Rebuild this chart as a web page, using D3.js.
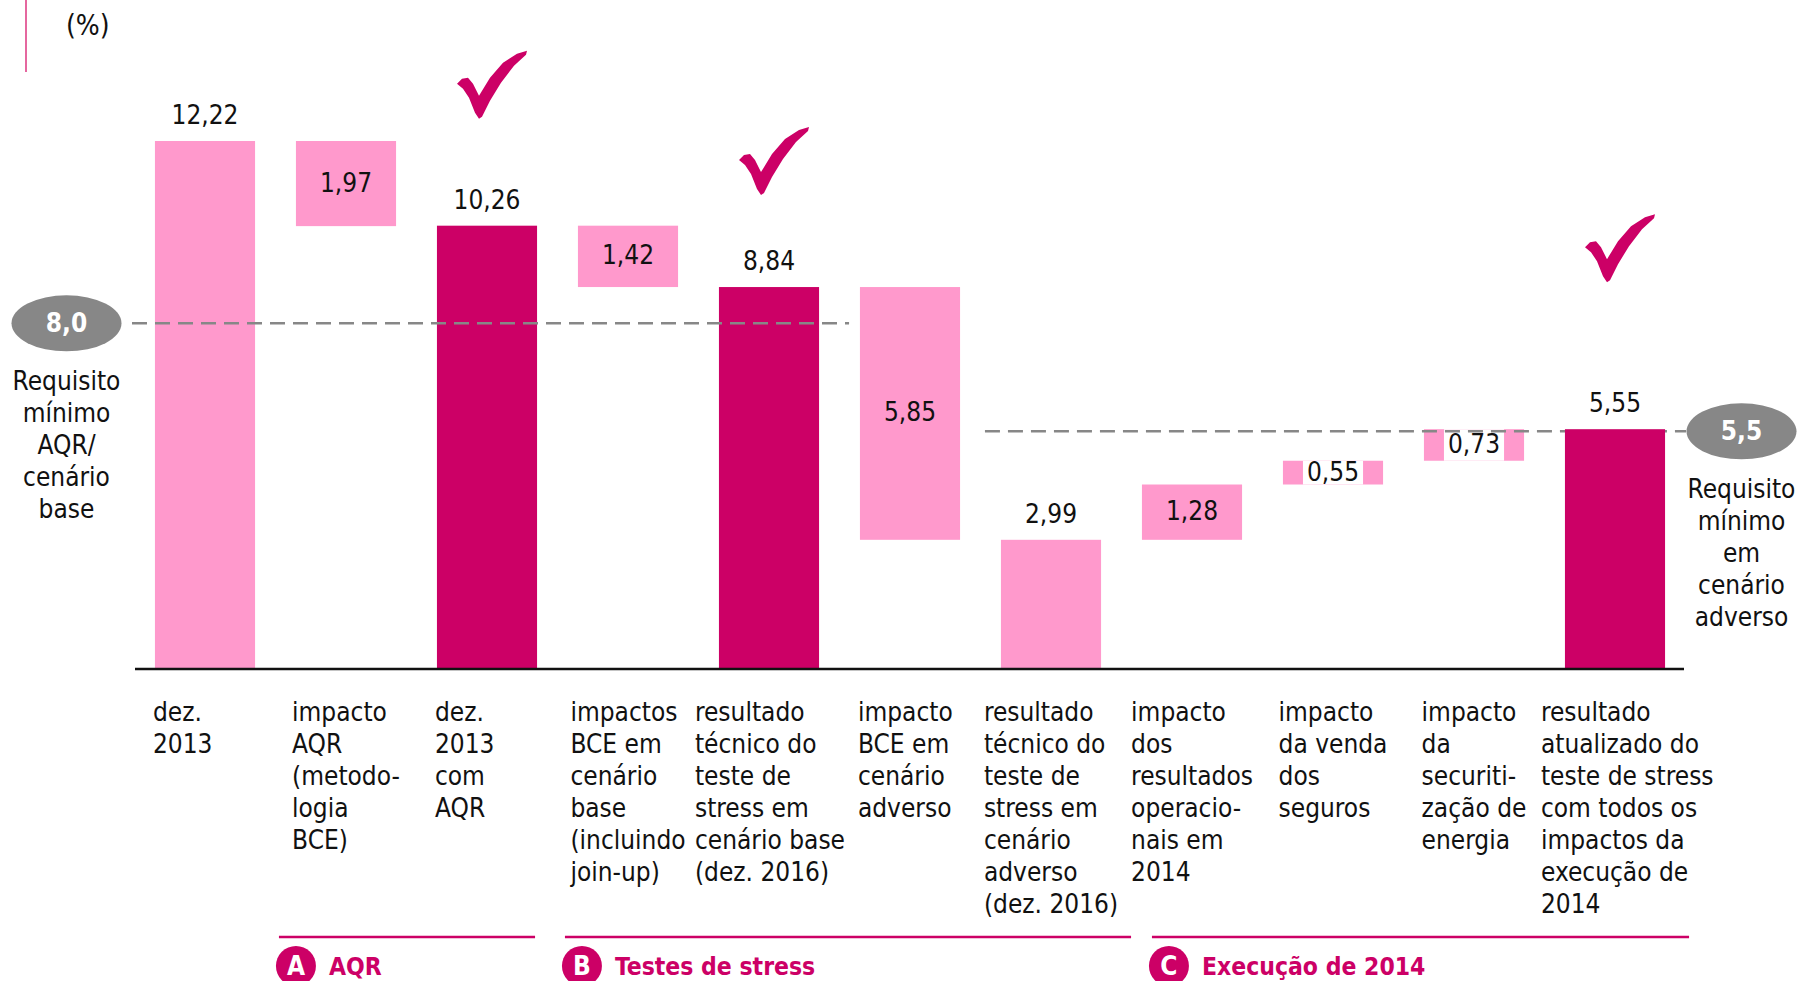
<!DOCTYPE html>
<html>
<head>
<meta charset="utf-8">
<script src="https://cdn.jsdelivr.net/npm/d3@7"></script>
<style>
  body { margin: 0; background: #fff; }
  text { font-family: "DejaVu Sans Condensed", "DejaVu Sans", sans-serif; font-stretch: condensed; }
</style>
</head>
<body>
<div id="container"></div>
<script>
// chart data
const categories = [
    ["dez.", "2013"],
    ["impacto", "AQR", "(metodo-", "logia", "BCE)"],
    ["dez.", "2013", "com", "AQR"],
    ["impactos", "BCE em", "cenário", "base", "(incluindo", "join-up)"],
    ["resultado", "técnico do", "teste de", "stress em", "cenário base", "(dez. 2016)"],
    ["impacto", "BCE em", "cenário", "adverso"],
    ["resultado", "técnico do", "teste de", "stress em", "cenário", "adverso", "(dez. 2016)"],
    ["impacto", "dos", "resultados", "operacio-", "nais em", "2014"],
    ["impacto", "da venda", "dos", "seguros"],
    ["impacto", "da", "securiti-", "zação de", "energia"],
    ["resultado", "atualizado do", "teste de stress", "com todos os", "impactos da", "execução de", "2014"]
];
const values = [12.22, -1.97, 10.26, -1.42, 8.84, -5.85, 2.99, 1.28, 0.55, 0.73, 5.55];
const kinds = ["total", "delta", "total", "delta", "total", "delta", "total", "delta", "delta", "delta", "total"];
const checked = [false, false, true, false, true, false, false, false, false, false, true];

const thresholds = [
    {value: 8.0, label: "8,0", note: ["Requisito", "mínimo", "AQR/", "cenário", "base"], from: 0, to: 4, side: "left"},
    {value: 5.5, label: "5,5", note: ["Requisito", "mínimo", "em", "cenário", "adverso"], from: 6, to: 10, side: "right"}
];
const groups = [
    {letter: "A", name: "AQR", first: 1, last: 2},
    {letter: "B", name: "Testes de stress", first: 3, last: 6},
    {letter: "C", name: "Execução de 2014", first: 7, last: 10}
];

// layout
const W = 1800, H = 981;
const light = "#ff99cc", dark = "#cc0066", grey = "#878787";
const FS = 26;
const checkLift = [107, 92, 147];
const groupPad = [[17, -2], [13, 30], [-10, 24]];

const fmt = v => Math.abs(v).toFixed(2).replace(".", ",");

// running totals for the waterfall
let running = 0;
const bars = values.map((v, i) => {
    let y0, y1;
    if (kinds[i] === "total") { y0 = 0; y1 = v; running = v; }
    else { y0 = running; y1 = running + v; running = y1; }
    return {i: i, v: v, kind: kinds[i], lo: Math.min(y0, y1), hi: Math.max(y0, y1), checked: checked[i]};
});

const x = d3.scaleBand()
    .domain(d3.range(categories.length))
    .range([134.5, 1685.5])
    .paddingInner(0.29)
    .paddingOuter(0.145);
const y = d3.scaleLinear().domain([0, 12.22]).range([669, 141]);
const bw = x.bandwidth();

const svg = d3.select("#container").append("svg")
    .attr("width", W).attr("height", H)
    .attr("viewBox", `0 0 ${W} ${H}`);

// top-left marker and unit
svg.append("line").attr("x1", 26).attr("x2", 26).attr("y1", 0).attr("y2", 72)
    .attr("stroke", "#e5679f").attr("stroke-width", 2);
svg.append("text").attr("x", 66).attr("y", 35).attr("font-size", 28).attr("fill", "#111").text("(%)");

// delta bars (below lines)
const deltas = bars.filter(d => d.kind === "delta");
svg.selectAll(".delta").data(deltas).enter().append("rect")
    .attr("class", "delta")
    .attr("x", d => x(d.i)).attr("width", bw)
    .attr("y", d => y(d.hi)).attr("height", d => y(d.lo) - y(d.hi))
    .attr("fill", light);

// delta labels
const deltaLabels = svg.selectAll(".dlab").data(deltas).enter().append("g").attr("class", "dlab");
deltaLabels.append("rect").attr("class", "bg").attr("fill", "#fff");
deltaLabels.append("text")
    .attr("x", d => x(d.i) + bw / 2)
    .attr("y", d => (y(d.hi) + y(d.lo)) / 2 + 8)
    .attr("text-anchor", "middle").attr("font-size", FS).attr("fill", "#111")
    .text(d => fmt(d.v));
deltaLabels.each(function (d) {
    const g = d3.select(this);
    const h = y(d.lo) - y(d.hi);
    if (h < 40) {
        const tw = g.select("text").node().getComputedTextLength();
        g.select("rect.bg")
            .attr("x", x(d.i) + bw / 2 - tw / 2 - 4).attr("width", tw + 8)
            .attr("y", y(d.hi)).attr("height", h);
    }
});

// lower threshold line sits behind the final bar
const drawThreshold = t => {
    svg.append("line")
        .attr("x1", t.side === "left" ? 132 : x(t.from) - 16)
        .attr("x2", t.side === "left" ? x(t.to) + bw + 30 : 1686)
        .attr("y1", y(t.value)).attr("y2", y(t.value))
        .attr("stroke", grey).attr("stroke-width", 2.5)
        .attr("stroke-dasharray", "15,8");
};
drawThreshold(thresholds[1]);

// total bars
const totals = bars.filter(d => d.kind === "total");
svg.selectAll(".total").data(totals).enter().append("rect")
    .attr("class", "total")
    .attr("x", d => x(d.i)).attr("width", bw)
    .attr("y", d => y(d.hi)).attr("height", d => y(0) - y(d.hi))
    .attr("fill", d => d.checked ? dark : light);

drawThreshold(thresholds[0]);

svg.selectAll(".tlab").data(totals).enter().append("text")
    .attr("x", d => x(d.i) + bw / 2).attr("y", d => y(d.hi) - 17)
    .attr("text-anchor", "middle").attr("font-size", FS).attr("fill", "#111")
    .text(d => fmt(d.v));

// check marks
const checkPts = [[0,33],[5,28],[11,27],[16,33],[22,45],[33,27],[46,12],[60,3],[70,0],[69,4],[57,15],[44,32],[33,50],[25,66],[22,68],[18,62],[12,47],[6,38]];
const checkPath = d3.line().curve(d3.curveLinearClosed)(checkPts);
bars.filter(d => d.checked).forEach((d, k) => {
    svg.append("path").attr("d", checkPath).attr("fill", dark)
        .attr("transform", `translate(${x(d.i) + bw / 2 - 30},${y(d.hi) - checkLift[k] - 68})`);
});

// baseline
svg.append("line").attr("x1", 135).attr("x2", 1684).attr("y1", y(0)).attr("y2", y(0))
    .attr("stroke", "#111").attr("stroke-width", 2.5);

// category labels
svg.selectAll(".cat").data(categories).enter().append("text")
    .attr("class", "cat").attr("font-size", FS).attr("fill", "#111")
    .each(function (lines, i) {
        const t = d3.select(this);
        lines.forEach((l, j) => {
            t.append("tspan").attr("dy", j === 0 ? 0 : 32).text(l);
        });
        const w = d3.max(t.selectAll("tspan").nodes(), n => n.getComputedTextLength());
        const left = Math.max(x(i) - 24, Math.min(x(i) - 2, x(i) + bw / 2 - w / 2));
        t.attr("y", 721);
        t.selectAll("tspan").attr("x", left);
    });

// threshold badges and notes
thresholds.forEach(t => {
    const cx = t.side === "left" ? 66.5 : 1741.5;
    const cy = y(t.value);
    svg.append("ellipse").attr("cx", cx).attr("cy", cy).attr("rx", 55).attr("ry", 28).attr("fill", grey);
    svg.append("text").attr("x", cx).attr("y", cy + 9).attr("text-anchor", "middle")
        .attr("font-size", FS).attr("font-weight", "bold").attr("fill", "#fff").text(t.label);
    const note = svg.append("text").attr("text-anchor", "middle").attr("font-size", FS).attr("fill", "#111")
        .attr("y", cy + 67);
    t.note.forEach((l, j) => note.append("tspan").attr("x", cx).attr("dy", j === 0 ? 0 : 32).text(l));
});

// group brackets
groups.forEach((g, k) => {
    const x1 = x(g.first) - groupPad[k][0], x2 = x(g.last) + bw + groupPad[k][1];
    svg.append("line").attr("x1", x1).attr("x2", x2).attr("y1", 937).attr("y2", 937)
        .attr("stroke", dark).attr("stroke-width", 2.5);
    svg.append("circle").attr("cx", x1 + 17).attr("cy", 966).attr("r", 20).attr("fill", dark);
    svg.append("text").attr("x", x1 + 17).attr("y", 975).attr("text-anchor", "middle")
        .attr("font-size", FS).attr("font-weight", "bold").attr("fill", "#fff").text(g.letter);
    svg.append("text").attr("x", x1 + 50).attr("y", 975)
        .attr("font-size", 24.5).attr("font-weight", "bold").attr("fill", dark).text(g.name);
});
</script>
</body>
</html>
